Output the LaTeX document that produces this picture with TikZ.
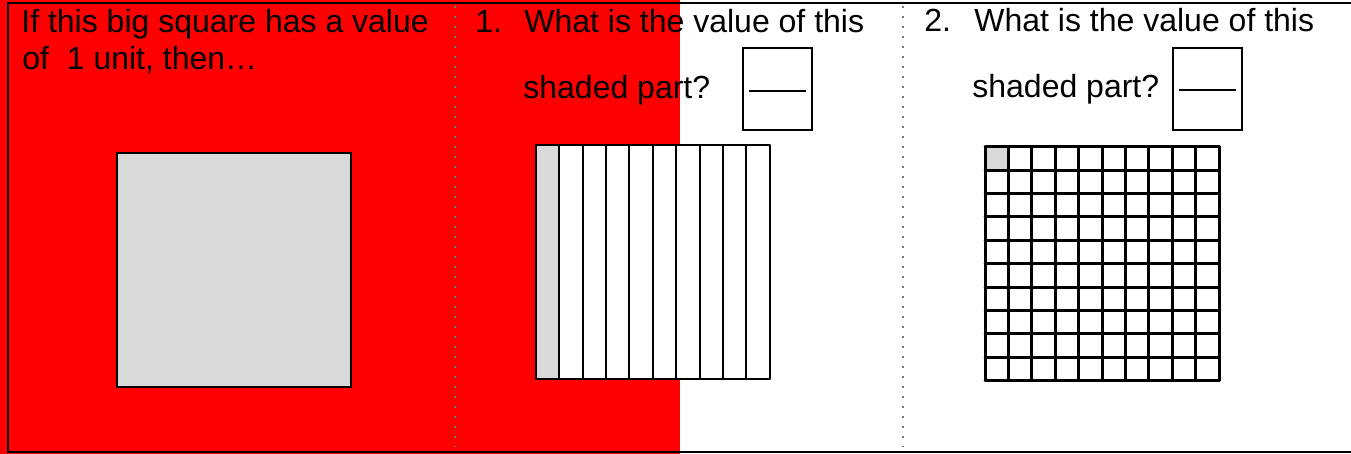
\documentclass[tikz,border=0pt]{standalone}
\usepackage{fontspec}
\setmainfont{Liberation Sans}
\definecolor{wsRed}{RGB}{255,0,0}
\definecolor{wsShade}{RGB}{217,217,217}
\tikzset{
  wsText/.style={anchor=base west, inner sep=0pt, font=\fontsize{16}{19}\selectfont},
  wsAnswer/.style={draw=black, line width=0.6pt},
  wsDivider/.style={draw=black!55, line width=1pt, dash pattern=on 1pt off 4pt}
}
\begin{document}
\begin{tikzpicture}[x=0.5pt, y=-0.5pt]
% worksheet: one unit, tenths and hundredths
\def\cellsz{11.7pt}
\providecommand{\wsFrameLineWidth}{1.2pt}
\providecommand{\wsStripLineWidth}{1pt}
\providecommand{\wsGridLineWidth}{1.5pt}
\useasboundingbox (0,0) rectangle (1351,454);
% Background of the left half
\fill[wsRed] (0,0) rectangle (680,454);
% Frame (open on the right)
\draw[line width=\wsFrameLineWidth] (1351,3) -- (8,3) -- (8,452) -- (1351,452);
% Dotted column dividers
\draw[wsDivider] (455,6) -- (455,447);
\draw[wsDivider] (903,6) -- (903,447);
% Texts
\node[wsText] (intro1) at (21,33) {If this big square has a value};
\node[wsText] (intro2) at (22,70) {of~~1 unit, then…};
\node[wsText] (num1) at (475,33) {1.};
\node[wsText] (ask1a) at (524,33) {What is the value of this};
\node[wsText] (ask1b) at (523,99) {shaded part?};
\node[wsText] (num2) at (924,32) {2.};
\node[wsText] (ask2a) at (974,32) {What is the value of this};
\node[wsText] (ask2b) at (972,98) {shaded part?};
% Answer boxes with fraction bar
\draw[wsAnswer] (743,48) rectangle (812,130);
\draw[line width=0.6pt] (749,91) -- (806,91);
\draw[wsAnswer] (1173,48) rectangle (1242,130);
\draw[line width=0.6pt] (1179,90) -- (1236,90);
% The whole: one unit
\draw[fill=wsShade, line width=1.1pt] (117,153) rectangle (351,387);
% Tenths: ten columns, first one shaded
\begin{scope}[shift={(535.7,145)}, x=\cellsz, y=-\cellsz, line cap=round, line join=round]
  \fill[white] (0,0) rectangle (10,10);
  \fill[wsShade] (0,0) rectangle (1,10);
  \begin{scope}[draw=black, line width=\wsStripLineWidth]
    \draw (1,0) -- (1,10);
    \draw (2,0) -- (2,10);
    \draw (3,0) -- (3,10);
    \draw (4,0) -- (4,10);
    \draw (5,0) -- (5,10);
    \draw (6,0) -- (6,10);
    \draw (7,0) -- (7,10);
    \draw (8,0) -- (8,10);
    \draw (9,0) -- (9,10);
    \draw (0,0) rectangle (10,10);
  \end{scope}
\end{scope}
% Hundredths: ten by ten, top left cell shaded
\begin{scope}[shift={(985,146.7)}, x=\cellsz, y=-\cellsz, line cap=round, line join=round]
  \fill[wsShade] (0,0) rectangle (1,1);
  % Vertical lines
  \begin{scope}[draw=black, line width=\wsGridLineWidth]
    \draw (0,0) -- (0,10);
    \draw (1,0) -- (1,10);
    \draw (2,0) -- (2,10);
    \draw (3,0) -- (3,10);
    \draw (4,0) -- (4,10);
    \draw (5,0) -- (5,10);
    \draw (6,0) -- (6,10);
    \draw (7,0) -- (7,10);
    \draw (8,0) -- (8,10);
    \draw (9,0) -- (9,10);
    \draw (10,0) -- (10,10);
  \end{scope}
  % Horizontal lines
  \begin{scope}[draw=black, line width=\wsGridLineWidth]
    \draw (0,0) -- (10,0);
    \draw (0,1) -- (10,1);
    \draw (0,2) -- (10,2);
    \draw (0,3) -- (10,3);
    \draw (0,4) -- (10,4);
    \draw (0,5) -- (10,5);
    \draw (0,6) -- (10,6);
    \draw (0,7) -- (10,7);
    \draw (0,8) -- (10,8);
    \draw (0,9) -- (10,9);
    \draw (0,10) -- (10,10);
  \end{scope}
\end{scope}
\end{tikzpicture}
\end{document}
